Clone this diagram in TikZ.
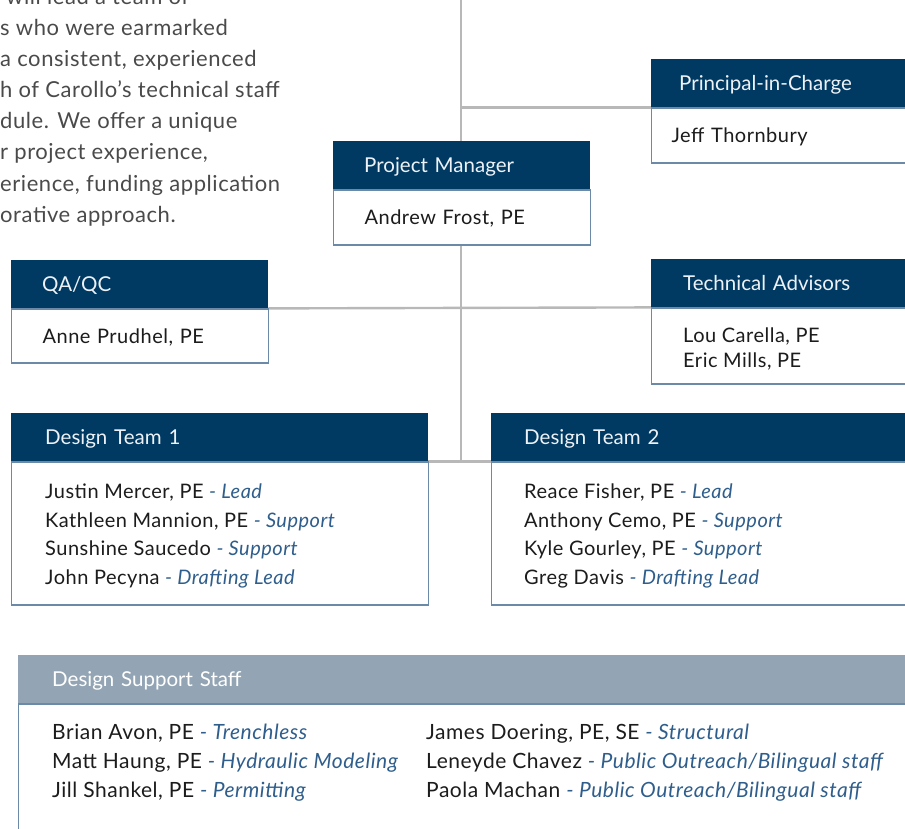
\documentclass[tikz,border=0pt]{standalone}
\usepackage{fontspec}
\setmainfont{Lato}[LetterSpace=2.5]
\newfontfamily\hdrfont{Lato}
\newfontfamily\parafont{Lato}[LetterSpace=2.6]
\usetikzlibrary{backgrounds}
\definecolor{navy}{HTML}{003A63}
\definecolor{hdrtext}{HTML}{EEF2F6}
\definecolor{bordc}{HTML}{6A8AA8}
\definecolor{rolec}{HTML}{2F5E8C}
\definecolor{linec}{HTML}{B8B8B8}
\definecolor{suphdr}{HTML}{93A5B4}
\definecolor{paratext}{HTML}{4A4A4A}
\definecolor{bodytext}{HTML}{1C1C1C}
\newcommand{\rl}[1]{{\color{rolec}\itshape - #1}}
\begin{document}
\begin{tikzpicture}[x=1pt,y=-1pt,
  hdr/.style={fill=navy, text=hdrtext, anchor=north west, minimum height=48pt,
    inner ysep=0pt, align=left, text height=14.7pt, text depth=0pt,
    font=\hdrfont\fontsize{20.5}{24}\selectfont},
  bodybox/.style={draw=bordc, line width=1.2pt, fill=white, anchor=north west,
    inner ysep=0pt, align=left, text=bodytext, font=\fontsize{20}{28.7}\selectfont},
  oneline/.style={text height=14.4pt, text depth=0pt},
  bodytxt/.style={anchor=west, inner sep=0pt, align=left, text=bodytext,
    yshift=-2.5pt, font=\fontsize{20}{28.7}\selectfont},
  conn/.style={draw=linec, line width=2.4pt}
]
\useasboundingbox (0,0) rectangle (905,828);

% intro paragraph (cut at the page edge)
\node[anchor=north west, inner sep=0pt, align=left, text=paratext,
      font=\parafont\fontsize{22}{31.1}\selectfont] (para) at (0,-12)
  {\hspace*{6pt}will lead a team of\\
   s who were earmarked\\
   a consistent, experienced\\
   h of Carollo’s technical staff\\
   dule. We offer a unique\\
   r project experience,\\
   erience, funding application\\
   orative approach.};

% Principal-in-Charge
\node[hdr, inner xsep=28pt, text width=203pt] (pich) at (651,59) {Principal-in-Charge};
\node[bodybox, oneline, inner xsep=20pt, text width=219pt, minimum height=55pt] (picb) at (pich.south west) {Jeff Thornbury};

% Project Manager
\node[hdr, inner xsep=31pt, text width=195pt] (pmh) at (333,141) {Project Manager};
\node[bodybox, oneline, inner xsep=31pt, text width=195pt, minimum height=55pt] (pmb) at (pmh.south west) {Andrew Frost, PE};

% QA/QC
\node[hdr, inner xsep=31pt, text width=195pt] (qah) at (11,260) {QA/QC};
\node[bodybox, oneline, inner xsep=31pt, text width=195pt, minimum height=54pt] (qab) at (qah.south west) {Anne Prudhel, PE};

% Technical Advisors
\node[hdr, inner xsep=32pt, text width=195pt] (tah) at (651,259) {Technical Advisors};
\node[bodybox, minimum width=259pt, minimum height=76pt] (tab) at (tah.south west) {};
\node[bodytxt, font=\fontsize{20}{25}\selectfont] (tat) at ([xshift=32pt]tab.west) {Lou Carella, PE\\Eric Mills, PE};

% Design Team 1
\node[hdr, inner xsep=34pt, text width=349pt] (d1h) at (11,413) {Design Team 1};
\node[bodybox, minimum width=417pt, minimum height=143pt] (d1b) at (d1h.south west) {};
\node[bodytxt] (d1t) at ([xshift=34pt]d1b.west)
  {Justin Mercer, PE \rl{Lead}\\
   Kathleen Mannion, PE \rl{Support}\\
   Sunshine Saucedo \rl{Support}\\
   John Pecyna \rl{Drafting Lead}};

% Design Team 2
\node[hdr, inner xsep=33pt, text width=353pt] (d2h) at (491,413) {Design Team 2};
\node[bodybox, minimum width=419pt, minimum height=143pt] (d2b) at (d2h.south west) {};
\node[bodytxt] (d2t) at ([xshift=33pt]d2b.west)
  {Reace Fisher, PE \rl{Lead}\\
   Anthony Cemo, PE \rl{Support}\\
   Kyle Gourley, PE \rl{Support}\\
   Greg Davis \rl{Drafting Lead}};

% Design Support Staff
\node[hdr, fill=suphdr, text=white, inner xsep=34pt, text width=824pt] (dsh) at (18,655) {Design Support Staff};
\node[bodybox, inner xsep=0pt, minimum width=892pt, minimum height=130pt] (dsb) at (dsh.south west) {};
\node[anchor=north west, inner sep=0pt, align=left, text=bodytext,
      font=\fontsize{21}{28.7}\selectfont] (dsc1) at (52,724)
  {Brian Avon, PE \rl{Trenchless}\\
   Matt Haung, PE \rl{Hydraulic Modeling}\\
   Jill Shankel, PE \rl{Permitting}};
\node[anchor=north west, inner sep=0pt, align=left, text=bodytext,
      font=\fontsize{21}{28.7}\selectfont] (dsc2) at (426,724)
  {James Doering, PE, SE \rl{Structural}\\
   Leneyde Chavez \rl{Public Outreach/Bilingual staff}\\
   Paola Machan \rl{Public Outreach/Bilingual staff}};

% connectors
\coordinate (top) at (461,-5);
\begin{scope}[on background layer]
  \draw[conn] (top) -- (top |- d1h.south);
  \draw[conn] (top |- pich.south) -- (pich.south west);
  \draw[conn] (qah.south east) -- (tah.south west);
  \draw[conn] (d1h.south east) -- (d2h.south west);
\end{scope}
\end{tikzpicture}
\end{document}
